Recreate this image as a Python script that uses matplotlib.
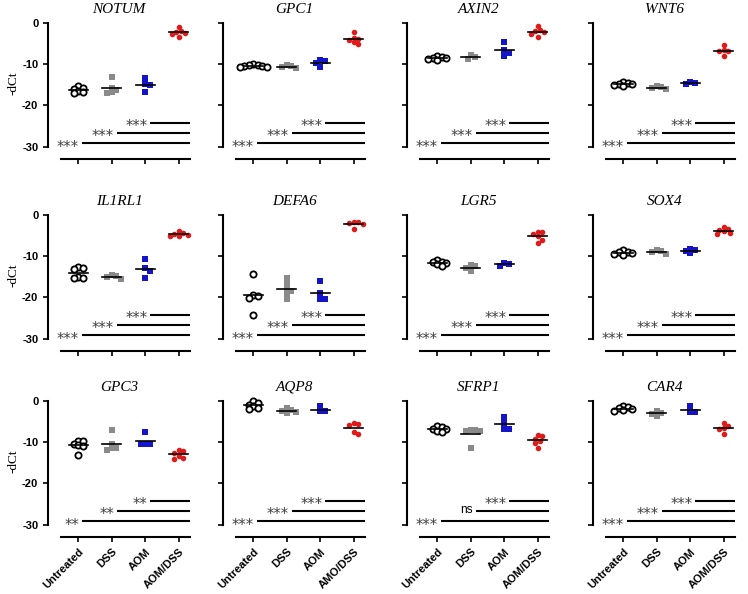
import numpy as np
import matplotlib
matplotlib.use('Agg')
import matplotlib.pyplot as plt

# Gruppi e geni
groups = ['Untreated', 'DSS', 'AOM', 'AOM/DSS']
groups_aqp8 = ['Untreated', 'DSS', 'AOM', 'AMO/DSS']
genes = ['NOTUM', 'GPC1', 'AXIN2', 'WNT6',
         'IL1RL1', 'DEFA6', 'LGR5', 'SOX4',
         'GPC3', 'AQP8', 'SFRP1', 'CAR4']

# -dCt per gruppo (Untreated, DSS, AOM, AOM/DSS)
NOTUM = [[-15.4, -15.8, -16.0, -16.4, -16.8, -17.1],
         [-13.0, -15.8, -16.2, -16.8, -16.9],
         [-13.4, -14.7, -15.1, -16.8],
         [-1.0, -1.9, -2.3, -2.4, -2.7, -3.4]]
GPC1 = [[-10.0, -10.2, -10.3, -10.4, -10.5, -10.6, -10.8],
        [-10.3, -10.5, -10.7, -11.0],
        [-8.9, -9.3, -9.7, -10.6],
        [-2.3, -3.6, -3.8, -4.2, -4.7, -5.1]]
AXIN2 = [[-8.0, -8.3, -8.5, -8.6, -8.8, -9.0],
         [-7.8, -8.2, -8.7],
         [-4.5, -6.6, -7.4, -8.0],
         [-0.8, -1.7, -2.0, -2.3, -2.6, -3.3]]
WNT6 = [[-14.2, -14.5, -14.7, -14.9, -15.1, -15.4],
        [-15.3, -15.6, -15.8, -16.1],
        [-14.4, -14.6, -14.8],
        [-5.3, -6.5, -6.9, -6.9, -8.1]]
IL1RL1 = [[-12.7, -12.8, -13.0, -15.0, -15.2, -15.3],
          [-14.6, -14.9, -15.1, -15.5],
          [-10.6, -12.8, -13.6, -15.4],
          [-4.0, -4.3, -4.6, -4.8, -5.0, -5.2]]
DEFA6 = [[-14.3, -19.3, -19.6, -20.1, -24.3],
         [-15.3, -16.5, -17.9, -18.5, -19.3, -20.4],
         [-16.1, -18.9, -20.4, -20.4],
         [-1.6, -1.7, -2.0, -2.2, -3.5]]
LGR5 = [[-11.0, -11.3, -11.5, -11.7, -12.0, -12.3],
        [-12.2, -12.5, -12.8, -13.6],
        [-11.7, -12.0, -12.3],
        [-4.2, -4.2, -4.6, -5.2, -6.0, -6.8]]
SOX4 = [[-8.6, -8.9, -9.1, -9.3, -9.5, -9.7],
        [-8.6, -8.8, -9.0, -9.4],
        [-8.2, -8.5, -8.8, -9.2],
        [-3.0, -3.4, -3.7, -4.0, -4.3, -4.6]]
GPC3 = [[-9.6, -9.6, -10.4, -10.8, -11.0, -13.1],
        [-7.1, -10.5, -11.3, -11.5, -11.9],
        [-7.5, -10.4, -10.4, -10.4],
        [-11.9, -12.2, -12.6, -13.3, -13.8, -14.1]]
AQP8 = [[-0.1, -0.5, -0.9, -1.3, -1.6, -1.9],
        [-1.8, -2.1, -2.4, -2.7, -3.0],
        [-1.3, -2.5, -2.5],
        [-5.4, -5.6, -5.8, -7.5, -7.9]]
SFRP1 = [[-6.0, -6.4, -6.7, -6.9, -7.2, -7.5],
         [-7.0, -7.1, -7.2, -7.4, -11.3],
         [-3.9, -5.4, -6.7, -6.7],
         [-8.3, -8.6, -9.2, -9.6, -10.3, -11.5]]
CAR4 = [[-1.2, -1.5, -1.8, -2.0, -2.2, -2.4],
        [-2.4, -2.8, -3.2, -3.6],
        [-1.2, -2.7, -2.7],
        [-5.4, -6.0, -6.6, -6.9, -8.1]]

data = [NOTUM, GPC1, AXIN2, WNT6, IL1RL1, DEFA6, LGR5, SOX4, GPC3, AQP8, SFRP1, CAR4]

# Significatività (AOM/DSS vs Untreated, DSS, AOM)
sig_default = ['***', '***', '***']
sig_gpc3 = ['**', '**', '**']
sig_sfrp1 = ['***', 'ns', '***']
sig_y = [-29.2, -26.7, -24.2]

yticks = [0, -10, -20, -30]

# Stile dei marker per gruppo
styles = [dict(marker='o', mfc='white', mec='black', ms=4.5, mew=1.3),
          dict(marker='s', mfc='#8a8a8a', mec='#8a8a8a', ms=3.8, mew=0),
          dict(marker='s', mfc='#1414c8', mec='#1414c8', ms=4.0, mew=0),
          dict(marker='o', mfc='#e01a1a', mec='#e01a1a', ms=4.0, mew=0)]

W, H = 748, 594
col_x = [48, 223, 407, 593]
row_y0 = [23, 215, 401]
px_x = 33.5
px_y = 4.12
xlim = (-0.9, 3.35)
ylim = (-30.6, 1.2)


# Disposizione a sciame (beeswarm) semplice in pixel
def swarm(vals, diam=5.0):
    placed = []
    offs = []
    cands = [0.0]
    for j in range(1, 12):
        cands += [j * diam * 0.45, -j * diam * 0.45]
    for v in vals:
        y = v * px_y
        for cx in cands:
            if all((cx - a) ** 2 + (y - b) ** 2 >= (diam * 0.8) ** 2 for a, b in placed):
                break
        placed.append((cx, y))
        offs.append(cx / px_x)
    return np.array(offs)


fig = plt.figure(figsize=(W / 100, H / 100), dpi=100)

for i, gene in enumerate(genes):
    r, c = divmod(i, 4)
    top = row_y0[r] - ylim[1] * px_y
    w = (xlim[1] - xlim[0]) * px_x
    h = (ylim[1] - ylim[0]) * px_y
    ax = fig.add_axes([col_x[c] / W, 1 - (top + h) / H, w / W, h / H])

    for g, vals in enumerate(data[i]):
        vals = np.array(vals)
        xs = g + swarm(vals)
        ax.plot(xs, vals, linestyle='none', clip_on=False, zorder=3, **styles[g])
        m = vals.mean()
        ax.plot([g - 0.28, g + 0.28], [m, m], color='black', lw=1.2, zorder=4)

    sig = sig_gpc3 if gene == 'GPC3' else sig_sfrp1 if gene == 'SFRP1' else sig_default
    for k in range(3):
        x0 = k + 0.15 + (-0.05 if k == 0 else 0)
        ax.plot([x0, xlim[1]], [sig_y[k], sig_y[k]], color='black', lw=1.5,
                clip_on=False, solid_capstyle='butt')
        if sig[k] == 'ns':
            ax.text(x0 - 0.1, sig_y[k] + 0.3, 'ns', ha='right', va='center',
                    fontsize=8.5, color='black', family='Liberation Sans')
        else:
            ax.text(x0 - 0.08, sig_y[k] - 0.9, sig[k], ha='right', va='center',
                    fontsize=10.5, color='#404040', family='DejaVu Sans')

    ax.set_xlim(*xlim)
    ax.set_ylim(*ylim)
    for s in ['top', 'right']:
        ax.spines[s].set_visible(False)
    ax.spines['left'].set_bounds(-30, 0)
    ax.spines['left'].set_linewidth(1.5)
    ax.spines['bottom'].set_position(('outward', 7))
    ax.spines['bottom'].set_bounds(-0.5, xlim[1])
    ax.spines['bottom'].set_linewidth(1.5)
    ax.set_yticks(yticks)
    ax.set_xticks(range(4))
    ax.tick_params(axis='both', width=1.2, length=3.5, direction='out')

    if c == 0:
        ax.set_yticklabels([str(t) for t in yticks], fontsize=8, fontweight='bold',
                           family='Liberation Sans')
        ax.set_ylabel('-dCt', fontsize=9.5, family='Liberation Serif', labelpad=2)
    else:
        ax.set_yticklabels([])

    if r == 2:
        labels = groups_aqp8 if gene == 'AQP8' else groups
        ax.set_xticklabels(labels, rotation=45, ha='right', rotation_mode='anchor',
                           fontsize=8, fontweight='bold', family='Liberation Sans')
    else:
        ax.set_xticklabels([])

    ax.set_title(gene, fontsize=11, style='italic', family='Liberation Serif', pad=4)

fig.savefig('out.png', dpi=100)
